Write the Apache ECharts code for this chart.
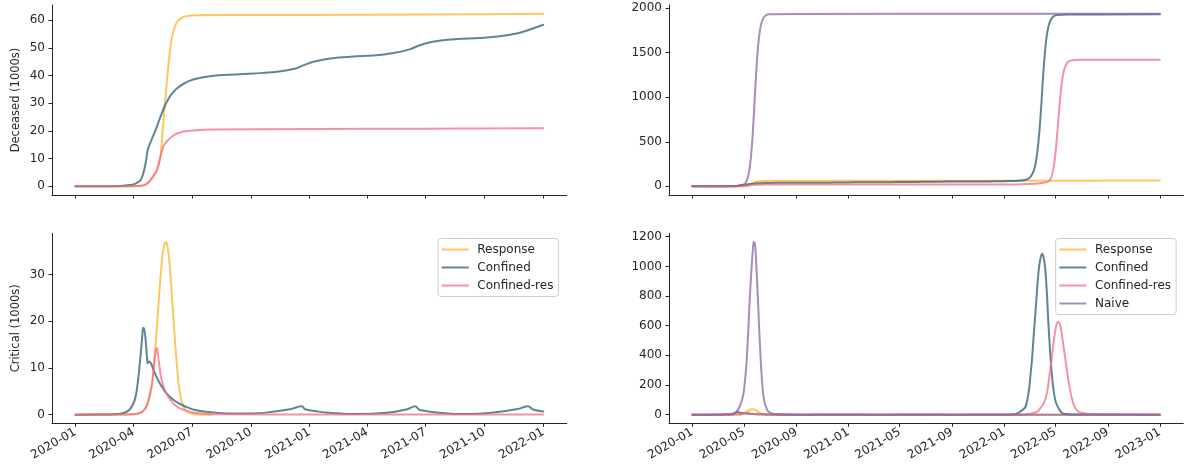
<!DOCTYPE html>
<html><head><meta charset="utf-8">
<script src="https://cdn.jsdelivr.net/npm/echarts@6/dist/echarts.min.js"></script>
<style>html,body{margin:0;padding:0;background:#fff}#c{width:1184px;height:472px}</style>
</head><body><div id="c"></div>
<script>
const seriesNames = ['Response', 'Confined', 'Confined-res', 'Naive'];
const leftTickLabels = ['2020-01','2020-04','2020-07','2020-10','2021-01','2021-04','2021-07','2021-10','2022-01'];
const rightTickLabels = ['2020-01','2020-05','2020-09','2021-01','2021-05','2021-09','2022-01','2022-05','2022-09','2023-01'];
const leftDeceasedTicks = [0, 10, 20, 30, 40, 50, 60];
const rightDeceasedTicks = [0, 500, 1000, 1500, 2000];
const leftCriticalTicks = [0, 10, 20, 30];
const rightCriticalTicks = [0, 200, 400, 600, 800, 1000, 1200];
const leftStart = '2020-01-01', leftEnd = '2022-01-01';
const rightStart = '2020-01-01', rightEnd = '2023-01-01';

const responseDeceased = [["2020-01-01",0],["2020-03-01",0.01],["2020-03-25",0.03],["2020-04-05",0.1],["2020-04-16",0.35],["2020-04-22",1.0],["2020-04-27",2.2],["2020-05-02",3.8],["2020-05-07",5.8],["2020-05-10",8],["2020-05-13",10.8],["2020-05-16",19],["2020-05-19",27.5],["2020-05-22",35.5],["2020-05-25",43],["2020-05-28",49.5],["2020-05-31",54],["2020-06-04",57.5],["2020-06-08",59.5],["2020-06-14",60.8],["2020-06-23",61.5],["2020-07-10",61.8],["2020-10-01",61.9],["2021-04-01",62.0],["2021-10-01",62.2],["2022-01-01",62.4],["2022-07-01",64],["2023-01-01",67]];
const confinedDeceased = [["2020-01-01",0],["2020-02-15",0.02],["2020-03-11",0.15],["2020-03-26",0.5],["2020-04-04",1.0],["2020-04-11",2.0],["2020-04-14",3.3],["2020-04-17",5.5],["2020-04-20",8.8],["2020-04-23",13.2],["2020-04-26",15.2],["2020-04-30",17.4],["2020-05-07",21.4],["2020-05-14",25.8],["2020-05-20",29.2],["2020-05-28",32.6],["2020-06-07",35.3],["2020-06-20",37.3],["2020-07-03",38.6],["2020-07-29",39.8],["2020-09-14",40.5],["2020-10-20",41],["2020-11-20",41.7],["2020-12-10",42.6],["2020-12-25",44],["2021-01-10",45.2],["2021-02-05",46.3],["2021-03-10",46.9],["2021-04-10",47.3],["2021-05-10",48.1],["2021-06-05",49.4],["2021-06-20",50.8],["2021-07-05",51.9],["2021-07-25",52.7],["2021-08-20",53.2],["2021-09-23",53.6],["2021-10-25",54.2],["2021-11-20",55.2],["2021-12-10",56.6],["2022-01-01",58.4],["2022-02-01",62],["2022-02-20",75],["2022-03-01",95],["2022-03-08",140],["2022-03-14",220],["2022-03-20",400],["2022-03-24",590],["2022-03-27",780],["2022-03-30",995],["2022-04-02",1225],["2022-04-05",1420],["2022-04-08",1580],["2022-04-12",1730],["2022-04-18",1845],["2022-04-25",1900],["2022-05-05",1922],["2022-06-01",1928],["2023-01-01",1930]];
const confinedResDeceased = [["2020-01-01",0],["2020-03-01",0.01],["2020-03-25",0.03],["2020-04-05",0.1],["2020-04-16",0.35],["2020-04-22",1.0],["2020-04-27",2.2],["2020-05-02",3.8],["2020-05-07",5.8],["2020-05-10",8],["2020-05-13",10.8],["2020-05-17",14.2],["2020-05-21",15.8],["2020-05-25",16.8],["2020-06-01",18.2],["2020-06-07",19],["2020-06-18",19.8],["2020-07-03",20.2],["2020-08-01",20.5],["2021-01-01",20.7],["2021-07-01",20.85],["2022-01-01",21],["2022-02-01",22],["2022-03-15",28],["2022-04-01",40],["2022-04-15",55],["2022-04-22",113],["2022-04-27",218],["2022-05-01",365],["2022-05-05",575],["2022-05-08",753],["2022-05-11",927],["2022-05-14",1080],["2022-05-18",1227],["2022-05-23",1332],["2022-05-30",1392],["2022-06-09",1415],["2022-07-01",1420],["2023-01-01",1422]];
const naiveDeceased = [["2020-01-01",0],["2020-03-01",0.5],["2020-04-01",3],["2020-04-20",10],["2020-04-30",20],["2020-05-06",50],["2020-05-11",118],["2020-05-15",230],["2020-05-19",424],["2020-05-22",631],["2020-05-25",880],["2020-05-28",1142],["2020-05-31",1380],["2020-06-03",1567],["2020-06-07",1738],["2020-06-12",1850],["2020-06-19",1910],["2020-06-29",1931],["2020-09-01",1935],["2023-01-01",1938]];

const responseCritical = [["2020-01-01",0],["2020-03-01",0.02],["2020-04-01",0.1],["2020-04-11",0.35],["2020-04-16",0.8],["2020-04-21",1.8],["2020-04-25",3.5],["2020-04-29",6],["2020-05-01",8],["2020-05-03",11],["2020-05-05",14.5],["2020-05-07",18.2],["2020-05-10",24],["2020-05-13",29.5],["2020-05-16",34],["2020-05-19",36.5],["2020-05-21",37],["2020-05-23",36.5],["2020-05-26",34],["2020-05-29",29],["2020-06-01",23],["2020-06-04",17],["2020-06-07",11.5],["2020-06-10",7],["2020-06-13",4],["2020-06-17",2],["2020-06-22",0.8],["2020-06-28",0.3],["2020-07-10",0.05],["2020-08-01",0],["2023-01-01",0]];
const confinedCritical = [["2020-01-01",0],["2020-02-15",0.02],["2020-03-01",0.08],["2020-03-16",0.35],["2020-03-25",1.0],["2020-04-01",2.5],["2020-04-05",4.5],["2020-04-08",7.5],["2020-04-11",11.5],["2020-04-14",16],["2020-04-16",18.6],["2020-04-18",18],["2020-04-20",15.5],["2020-04-22",12],["2020-04-23",11],["2020-04-25",11.4],["2020-04-28",11],["2020-05-02",9.6],["2020-05-07",8],["2020-05-14",6.2],["2020-05-22",4.6],["2020-06-01",3.3],["2020-06-12",2.3],["2020-06-25",1.5],["2020-07-08",0.95],["2020-08-01",0.5],["2020-09-01",0.25],["2020-10-01",0.25],["2020-11-01",0.55],["2020-12-01",1.15],["2020-12-20",1.8],["2020-12-25",1.15],["2021-01-15",0.65],["2021-02-01",0.4],["2021-03-15",0.12],["2021-05-01",0.4],["2021-06-01",1.1],["2021-06-15",1.8],["2021-06-22",1.0],["2021-08-01",0.3],["2021-09-01",0.12],["2021-10-15",0.45],["2021-11-22",1.2],["2021-12-08",1.8],["2021-12-16",1.1],["2022-01-01",0.7],["2022-01-20",1.5],["2022-02-05",16],["2022-02-21",61],["2022-03-05",309],["2022-03-11",530],["2022-03-17",760],["2022-03-22",950],["2022-03-26",1040],["2022-03-31",1085],["2022-04-04",1050],["2022-04-07",990],["2022-04-11",820],["2022-04-14",647],["2022-04-18",450],["2022-04-22",290],["2022-04-27",160],["2022-05-02",84],["2022-05-10",35],["2022-05-17",11],["2022-06-01",2],["2022-07-01",0.5],["2023-01-01",0.1]];
const confinedResCritical = [["2020-01-01",0],["2020-03-01",0.02],["2020-04-01",0.1],["2020-04-11",0.35],["2020-04-16",0.8],["2020-04-21",1.8],["2020-04-25",3.5],["2020-04-29",6],["2020-05-01",8],["2020-05-03",11],["2020-05-05",13.3],["2020-05-07",14.3],["2020-05-09",12.8],["2020-05-12",9.6],["2020-05-15",7.3],["2020-05-19",5.5],["2020-05-25",3.9],["2020-06-04",2.1],["2020-06-17",1.07],["2020-07-08",0.35],["2020-08-15",0.08],["2021-01-01",0.05],["2022-01-01",0.05],["2022-02-15",1],["2022-03-17",16],["2022-03-27",45],["2022-04-05",84],["2022-04-12",160],["2022-04-17",264],["2022-04-22",370],["2022-04-26",467],["2022-05-03",602],["2022-05-08",625],["2022-05-14",580],["2022-05-18",500],["2022-05-22",422],["2022-05-27",320],["2022-06-01",219],["2022-06-07",130],["2022-06-14",61],["2022-06-22",25],["2022-07-03",11],["2022-08-01",2],["2023-01-01",0.1]];
const naiveCritical = [["2020-01-01",0],["2020-03-01",0.3],["2020-03-25",3],["2020-04-05",8],["2020-04-13",20],["2020-04-21",55],["2020-04-29",129],["2020-05-03",220],["2020-05-07",355],["2020-05-10",510],["2020-05-13",693],["2020-05-16",860],["2020-05-19",1000],["2020-05-22",1120],["2020-05-24",1165],["2020-05-26",1160],["2020-05-28",1110],["2020-05-30",1000],["2020-06-02",820],["2020-06-05",620],["2020-06-09",380],["2020-06-13",200],["2020-06-17",100],["2020-06-23",40],["2020-06-30",15],["2020-07-15",2],["2020-08-15",0.2],["2023-01-01",0]];

// ---- styles ----
const colors = {
  'Response': 'rgba(255,178,40,0.75)',
  'Confined': 'rgba(40,92,115,0.75)',
  'Confined-res': 'rgba(242,108,132,0.75)',
  'Naive': 'rgba(139,102,168,0.75)'
};
const ink = '#262626';
const FONT = 'DejaVu Sans';

function ts(s) { const p = s.split('-').map(Number); return Date.UTC(p[0], p[1] - 1, p[2] || 1); }
function pts(arr, end) { return arr.filter(p => p[0] <= end).map(p => [ts(p[0]), p[1]]); }
function padRange(lo, hi) { const r = hi - lo; return [lo - 0.05 * r, hi + 0.05 * r]; }

const panels = [
  { grid: 0, end: leftEnd, start: leftStart, ticks: leftTickLabels, yTicks: leftDeceasedTicks, name: 'Deceased (1000s)', showX: false,
    data: { 'Response': responseDeceased, 'Confined': confinedDeceased, 'Confined-res': confinedResDeceased } },
  { grid: 1, end: rightEnd, start: rightStart, ticks: rightTickLabels, yTicks: rightDeceasedTicks, name: '', showX: false,
    data: { 'Response': responseDeceased, 'Confined': confinedDeceased, 'Confined-res': confinedResDeceased, 'Naive': naiveDeceased } },
  { grid: 2, end: leftEnd, start: leftStart, ticks: leftTickLabels, yTicks: leftCriticalTicks, name: 'Critical (1000s)', showX: true,
    data: { 'Response': responseCritical, 'Confined': confinedCritical, 'Confined-res': confinedResCritical } },
  { grid: 3, end: rightEnd, start: rightStart, ticks: rightTickLabels, yTicks: rightCriticalTicks, name: '', showX: true,
    data: { 'Response': responseCritical, 'Confined': confinedCritical, 'Confined-res': confinedResCritical, 'Naive': naiveCritical } }
];

const grids = [
  { left: 52, top: 5, width: 514.7, height: 190 },
  { left: 669, top: 5, width: 514.3, height: 190 },
  { left: 52, top: 233.3, width: 514.7, height: 190 },
  { left: 669, top: 233.3, width: 514.3, height: 190 }
].map(g => Object.assign({ containLabel: false, outerBoundsMode: 'none' }, g));

const xAxes = [], yAxes = [], series = [];
panels.forEach(p => {
  const xr = padRange(ts(p.start), ts(p.end));
  let lo = Infinity, hi = -Infinity;
  const sers = [];
  Object.keys(p.data).forEach(n => {
    const d = pts(p.data[n], p.end);
    d.forEach(v => { lo = Math.min(lo, v[1]); hi = Math.max(hi, v[1]); });
    sers.push([n, d]);
  });
  const yr = padRange(lo, hi);
  const tickTimes = p.ticks.map(t => ts(t + '-01'));
  const labelMap = new Map(p.ticks.map(t => [ts(t + '-01'), t]));
  xAxes.push({
    type: 'value', gridIndex: p.grid, min: xr[0], max: xr[1], scale: true,
    axisLine: { show: true, onZero: false, lineStyle: { color: ink, width: 1 } },
    axisTick: { show: true, inside: false, length: 3.5, customValues: tickTimes, lineStyle: { color: ink, width: 1 } },
    axisLabel: { show: p.showX, customValues: tickTimes, rotate: 30, margin: 8, fontSize: 12, fontFamily: FONT, color: ink,
      formatter: v => labelMap.get(v) || '' },
    splitLine: { show: false }, minorTick: { show: false }
  });
  yAxes.push({
    type: 'value', gridIndex: p.grid, min: yr[0], max: yr[1],
    name: p.name, nameLocation: 'middle', nameGap: 30, nameMoveOverlap: false,
    nameTextStyle: { fontSize: 11.5, fontFamily: FONT, color: ink },
    axisLine: { show: true, onZero: false, lineStyle: { color: ink, width: 1 } },
    axisTick: { show: true, inside: false, length: 3.5, customValues: p.yTicks, lineStyle: { color: ink, width: 1 } },
    axisLabel: { show: true, customValues: p.yTicks, margin: 7, fontSize: 12, fontFamily: FONT, color: ink,
      formatter: v => String(v) },
    splitLine: { show: false }
  });
  sers.forEach(([n, d]) => {
    series.push({
      type: 'line', name: n, xAxisIndex: p.grid, yAxisIndex: p.grid, data: d,
      showSymbol: false, symbol: 'none', smooth: 0.4, clip: true, sampling: null,
      color: colors[n], itemStyle: { color: colors[n] },
      lineStyle: { width: 2, color: colors[n], join: 'round', cap: 'round' },
      emphasis: { disabled: true }, silent: true, animation: false
    });
  });
});

const legendBase = {
  orient: 'vertical', icon: 'rect', itemWidth: 27, itemHeight: 2, itemGap: 0,
  backgroundColor: 'rgba(255,255,255,0.8)', borderColor: '#cccccc', borderWidth: 1, borderRadius: 3,
  padding: [2, 5, 2, 3.7], selectedMode: false,
  textStyle: { fontSize: 12, fontFamily: FONT, color: ink, lineHeight: 18, padding: [0, 0, 0, 3.6] }
};

const chart = echarts.init(document.getElementById('c'), null, { renderer: 'canvas' });
chart.setOption({
  animation: false,
  backgroundColor: '#ffffff',
  grid: grids,
  xAxis: xAxes,
  yAxis: yAxes,
  legend: [
    Object.assign({}, legendBase, { data: seriesNames.slice(0, 3), left: 438, top: 238.5 }),
    Object.assign({}, legendBase, { data: seriesNames.slice(0, 4), left: 1055.7, top: 238.5 })
  ],
  series: series
});
</script>
</body></html>
